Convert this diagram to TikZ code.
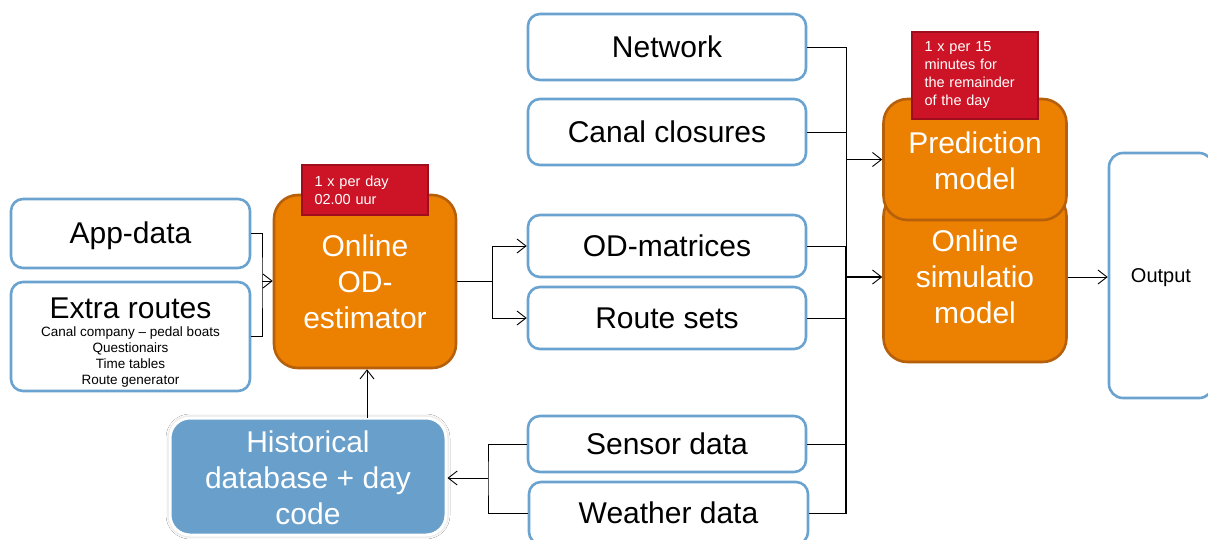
\documentclass[tikz,border=0pt]{standalone}
\usepackage{fontspec}
\setmainfont{Liberation Sans}
\usetikzlibrary{arrows.meta,shadows.blur}
\definecolor{bbord}{RGB}{106,163,207}
\definecolor{ofill}{RGB}{236,128,0}
\definecolor{obord}{RGB}{182,96,12}
\definecolor{rfill}{RGB}{204,20,38}
\definecolor{rbord}{RGB}{158,14,28}
\definecolor{hfill}{RGB}{104,159,203}
\tikzset{
  big/.style={font=\fontsize{30}{36}\selectfont},
  wbox/.style={draw=bbord, line width=2.6pt, fill=white, rounded corners=12pt, inner sep=0pt, align=center, big},
  obox/.style={draw=obord, line width=2.6pt, fill=ofill, rounded corners=24pt, inner sep=0pt, align=center, text=white, big},
  tag/.style={draw=rbord, line width=2pt, fill=rfill, inner xsep=12pt, inner ysep=0pt, align=left, text=white, font=\fontsize{14.5}{18}\selectfont, anchor=center},
  hbox/.style={draw=white, line width=3pt, fill=hfill, rounded corners=20pt, inner sep=0pt, align=center, text=white, big,
     blur shadow={shadow xshift=0pt, shadow yshift=0pt, shadow blur radius=4pt, shadow opacity=35}},
  conn/.style={draw=black, line width=0.9pt},
  arr/.style={conn, -{Straight Barb[length=9pt,width=14pt,line width=0.9pt]}},
}
\begin{document}
\begin{tikzpicture}[x=1pt,y=-1pt]
\useasboundingbox[fill=white] (0,0) rectangle (1208,539);
% left inputs
\node[wbox, minimum width=239, minimum height=69, text depth=2pt] (app) at (130.5,233.5) {App-data};
\node[wbox, minimum width=239, minimum height=109, font=\fontsize{13.5}{16}\selectfont, text depth=0pt] (extra) at (130.5,336.5)
  {{\fontsize{30}{32}\selectfont\rule{0pt}{30pt}Extra routes}\\[2pt]
   Canal company -- pedal boats\\
   Questionairs\\
   Time tables\\
   Route generator};
% OD estimator
\node[obox, minimum width=182, minimum height=173] (od) at (365,281.5) {Online\\OD-\\estimator};
\node[tag, minimum width=126, minimum height=50, text width=101] (tag1) at (365,190) {1 x per day\\02.00 uur};
% middle column
\node[wbox, minimum width=278, minimum height=66] (net) at (667,47) {Network};
\node[wbox, minimum width=278, minimum height=66] (canal) at (667,132) {Canal closures};
\node[wbox, minimum width=278, minimum height=62] (odm) at (667,246) {OD-matrices};
\node[wbox, minimum width=278, minimum height=62] (routes) at (667,318) {Route sets};
\node[wbox, minimum width=278, minimum height=56] (sensor) at (667,444) {Sensor data};
\node[wbox, minimum width=279, minimum height=62] (weather) at (668.5,513) {Weather data};
% historical
\node[hbox, minimum width=276, minimum height=117] (hist) at (308,476.5) {\rule{0pt}{25pt}Historical\\database + day\\code};
% models
\node[obox, minimum width=183, minimum height=170] (sim) at (975,277) {Online\\simulatio\\model};
\node[obox, minimum width=183, minimum height=121] (pred) at (975,159.5) {\rule{0pt}{25pt}Prediction\\model};
\node[tag, minimum width=126, minimum height=87, text width=101] (tag2) at (975,75.5) {1 x per 15\\minutes for\\the remainder\\of the day};
% output
\node[draw=bbord, line width=2.6pt, fill=white, rounded corners=14pt, minimum width=104, minimum height=245, inner sep=0pt,
      font=\fontsize{20}{24}\selectfont, text depth=0pt] (out) at (1161,275.5) {Output};
% connectors
\coordinate (jL) at (262,281);
\draw[conn] (app.east) -| (jL) |- (extra.east);
\draw[arr] (jL) -- (jL -| od.west);
\coordinate (jM) at (492,281);
\draw[conn] (od.east |- jM) -- (jM);
\draw[arr] (jM) |- (odm.west);
\draw[arr] (jM) |- (routes.west);
\coordinate (hs) at (367,418);
\draw[arr] (hs) -- (hs |- od.south);
\coordinate (jB) at (488,478);
\draw[conn] (sensor.west) -| (jB) |- (weather.west);
\draw[arr] (jB) -- (jB -| hist.east);
\coordinate (bx) at (846,0);
\draw[conn] (net.east) -- (net.east -| bx) -- (weather.east -| bx) -- (weather.east);
\draw[conn, line width=1.4pt] (odm.east -| bx) -- (weather.east -| bx);
\draw[conn] (canal.east) -- (canal.east -| bx);
\draw[conn] (odm.east) -- (odm.east -| bx);
\draw[conn] (routes.east) -- (routes.east -| bx);
\draw[conn] (sensor.east) -- (sensor.east -| bx);
\draw[arr] (pred.west -| bx) -- (pred.west);
\draw[arr, line width=1.3pt] (sim.west -| bx) -- (sim.west);
\draw[arr] (sim.east) -- (out.west |- sim.east);
\end{tikzpicture}
\end{document}
